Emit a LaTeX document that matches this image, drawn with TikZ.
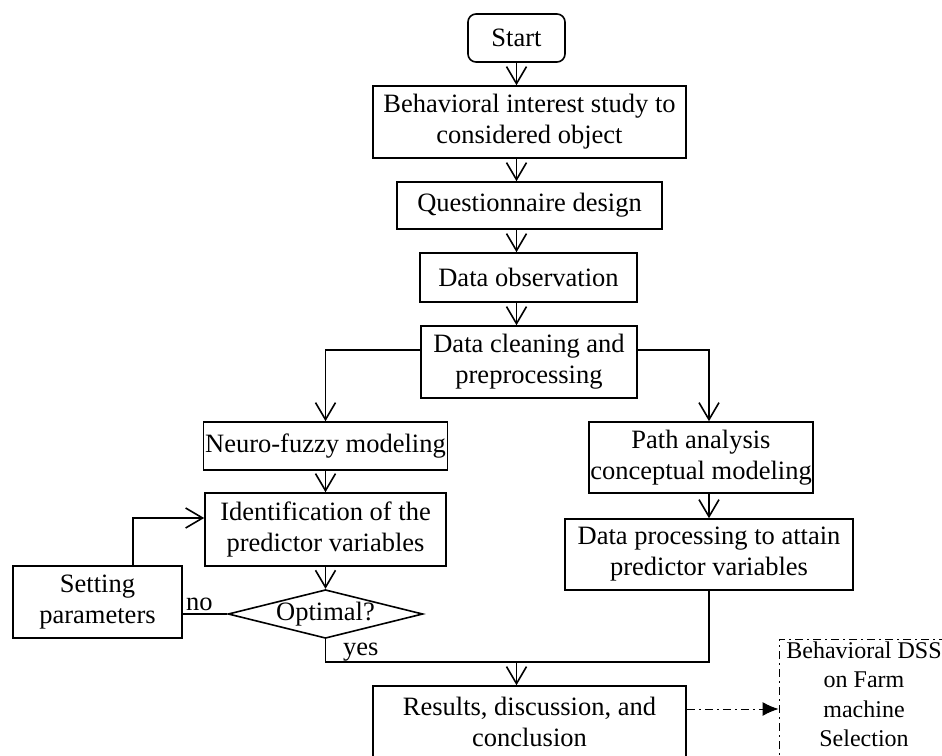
\documentclass[tikz,border=0pt]{standalone}
\usepackage{fontspec}
\setmainfont{Liberation Serif}
\usetikzlibrary{arrows.meta,shapes.geometric}
\tikzstyle{plain} = [rectangle, text centered, align=center, draw=black, line width=1.6pt, inner sep=0pt]
\tikzstyle{startbox} = [plain, rounded corners=8pt]
\tikzstyle{decision} = [diamond, draw=black, line width=1.6pt, inner sep=0pt, shape aspect=4]
\tikzstyle{output} = [rectangle, text centered, align=center, draw=black, line width=1pt, dash pattern=on 8pt off 4pt on 2pt off 4pt, inner sep=0pt]
\tikzstyle{line} = [line width=1.6pt]
\tikzstyle{arrow} = [line width=1.6pt,-{Straight Barb[length=17pt,width=20pt]}]
\tikzstyle{dasharrow} = [line width=1pt,dash pattern=on 8pt off 4pt on 2pt off 4pt,-{Latex[length=16pt,width=14pt]}]

\begin{document}
\begin{tikzpicture}[x=1pt, y=-1pt, every node/.style={font=\fontsize{26.5}{31}\selectfont}]
    \useasboundingbox (0,0) rectangle (942,755);
    \clip (0,0) rectangle (942,755);

    \node (start) [startbox, minimum width=97pt, minimum height=48pt] at (516.5,38) {Start};
    \node (behav) [plain, minimum width=313pt, minimum height=72pt] at (529.5,122) {Behavioral interest study to\\considered object};
    \node (quest) [plain, minimum width=265pt, minimum height=47pt] at (529.5,205.5) {Questionnaire design};
    \node (observ) [plain, minimum width=217pt, minimum height=49pt] at (528.5,277.5) {Data observation};
    \node (clean) [plain, minimum width=216pt, minimum height=72pt] at (529,362) {Data cleaning and\\preprocessing};
    \node (neuro) [plain, minimum width=244pt, minimum height=48pt] at (325.5,446) {Neuro-fuzzy modeling};
    \node (pathan) [plain, minimum width=224pt, minimum height=71pt] at (701,457.5) {Path analysis\\conceptual modeling};
    \node (ident) [plain, minimum width=241pt, minimum height=73pt] at (325.5,529.5) {Identification of the\\predictor variables};
    \node (dproc) [plain, minimum width=288pt, minimum height=71pt] at (709,554.5) {Data processing to attain\\predictor variables};
    \node (optimal) [decision, minimum width=193pt, minimum height=48pt] at (325.5,614) {Optimal?};
    \node (setpar) [plain, minimum width=169pt, minimum height=72pt] at (97.5,602) {Setting\\parameters};
    \node (results) [plain, minimum width=313pt, minimum height=72pt] at (529.5,722) {Results, discussion, and\\conclusion};
    \node (dss) [output, minimum width=170pt, minimum height=134pt, font=\fontsize{24}{29.5}\selectfont] at (864,706) {Behavioral DSS\\on Farm\\machine\\Selection\rule[-24pt]{0pt}{24pt}};
    \coordinate (join) at (709,662);

    \draw [arrow] (start.south) -- (start.south |- behav.north);
    \draw [arrow] (start.south |- behav.south) -- (start.south |- quest.north);
    \draw [arrow] (start.south |- quest.south) -- (start.south |- observ.north);
    \draw [arrow] (start.south |- observ.south) -- (start.south |- clean.north);

    \draw [arrow] ([yshift=12pt]clean.west) -| (neuro.north);
    \draw [arrow] ([yshift=12pt]clean.east) -| (dproc.north |- pathan.north);
    \draw [arrow] (neuro.south) -- (ident.north);
    \draw [arrow] (dproc.north |- pathan.south) -- (dproc.north);
    \draw [arrow] (ident.south) -- (optimal.north);

    \draw [line] (optimal.west) -- (optimal.west -| setpar.east);
    \node (nolabel) [anchor=south west, inner sep=3pt] at (optimal.west -| setpar.east) {no};
    \draw [arrow] ([xshift=35.5pt]setpar.north) |- ([yshift=11.5pt]ident.west);

    \draw [line] (optimal.south) |- (join) -- (dproc.south);
    \node (yeslabel) [anchor=base west, inner sep=0pt] at (343,655) {yes};
    \draw [arrow] (start.south |- join) -- (start.south |- results.north);

    \draw [dasharrow] ([yshift=13pt]results.east) -- ([yshift=13pt]results.east -| dss.west);
\end{tikzpicture}
\end{document}
